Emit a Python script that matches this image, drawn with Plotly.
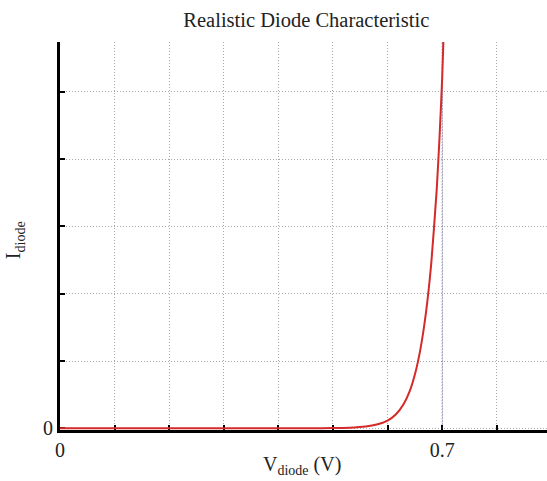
import plotly.graph_objects as go

# Diode forward characteristic: voltage (V) and current (arbitrary units)
v_diode = [0.0, 0.40, 0.46, 0.50, 0.53, 0.56, 0.58, 0.60, 0.615, 0.63,
           0.64, 0.65, 0.66, 0.67, 0.68, 0.69, 0.695, 0.70, 0.7022]
i_diode = [0.0, 0.0001, 0.0007, 0.003, 0.009, 0.027, 0.056, 0.115, 0.205, 0.37,
           0.54, 0.80, 1.17, 1.70, 2.45, 3.55, 4.3, 5.2, 5.74]

# Turn-on voltage marker
v_on = 0.7

# Axis grid / tick positions and labels
x_ticks = [0.0, 0.1, 0.2, 0.3, 0.4, 0.5, 0.6, 0.7, 0.8]
x_labels = ["0", "", "", "", "", "", "", "0.7", ""]
y_ticks = [0, 1, 2, 3, 4, 5]
y_labels = ["0", "", "", "", "", ""]

x_max = 0.892
y_max = 5.74

serif = "Liberation Serif, Times New Roman, serif"
ink = "#222222"

fig = go.Figure()

fig.add_trace(go.Scatter(
    x=[v_on, v_on], y=[0, y_max],
    mode="lines",
    line=dict(color="#4a4a9c", width=1, dash="1px,2px"),
    hoverinfo="skip", showlegend=False,
))

fig.add_trace(go.Scatter(
    x=v_diode, y=i_diode,
    mode="lines",
    line=dict(color="#d42a2a", width=2, shape="spline", smoothing=0.5),
    showlegend=False,
))

fig.update_layout(
    width=547, height=481,
    margin=dict(l=60, r=0, t=42, b=51),
    paper_bgcolor="white", plot_bgcolor="white",
    font=dict(family=serif, color=ink, size=20),
    title=dict(text="Realistic Diode Characteristic",
               x=0.56, xanchor="center", y=0.958, yanchor="middle",
               font=dict(family=serif, size=20.5, color=ink)),
)

axis_style = dict(
    tickmode="array",
    ticks="inside", ticklen=5, tickwidth=2, tickcolor="black",
    showline=True, linecolor="black", linewidth=3,
    showgrid=True, gridcolor="#a8a8a8", gridwidth=1, griddash="1px,2px",
    zeroline=False, layer="below traces",
    tickfont=dict(family=serif, size=20, color=ink),
)

fig.update_xaxes(range=[0, x_max], tickvals=x_ticks, ticktext=x_labels,
                 **axis_style)
fig.update_yaxes(range=[-0.025, y_max], tickvals=y_ticks, ticktext=y_labels,
                 **axis_style)

# Axis titles with subscripts
fig.add_annotation(
    text="V<sub>diode</sub> (V)", xref="paper", yref="paper",
    x=0.497, y=-0.055, xanchor="center", yanchor="top", showarrow=False,
    font=dict(family=serif, size=20, color=ink),
)
fig.add_annotation(
    text="I<sub>diode</sub>", xref="paper", yref="paper",
    x=-0.062, y=0.49, xanchor="right", yanchor="middle", showarrow=False,
    textangle=-90,
    font=dict(family=serif, size=20, color=ink),
)

fig.write_html("out.html")
